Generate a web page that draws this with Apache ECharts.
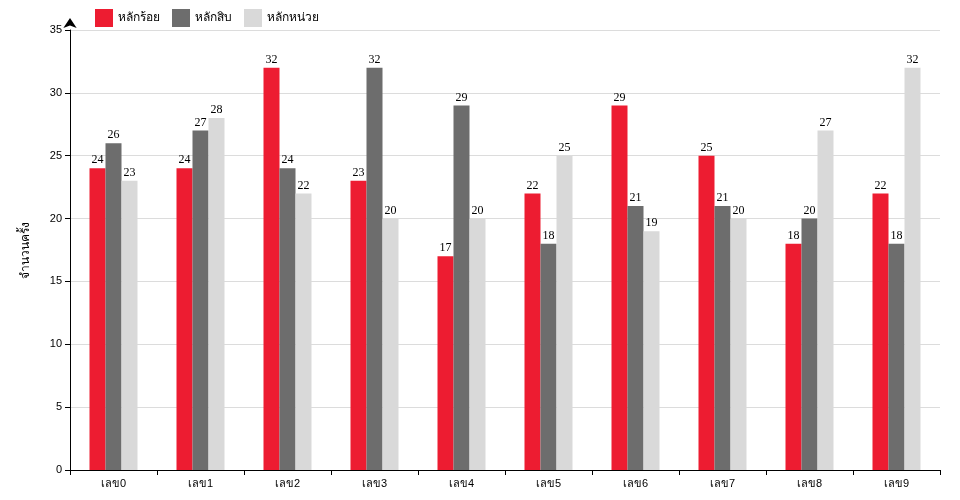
<!DOCTYPE html>
<html>
<head>
<meta charset="utf-8">
<script src="https://cdn.jsdelivr.net/npm/echarts@6/dist/echarts.min.js"></script>
<style>html,body{margin:0;padding:0;background:#fff}#box{width:960px;height:500px}</style>
</head>
<body>
<div id="box"></div>
<script>
let categories = ['เลข0', 'เลข1', 'เลข2', 'เลข3', 'เลข4', 'เลข5', 'เลข6', 'เลข7', 'เลข8', 'เลข9']
let hundreds = [24, 24, 32, 23, 17, 22, 29, 25, 18, 22]
let tens = [26, 27, 24, 32, 29, 18, 21, 21, 20, 18]
let units = [23, 28, 22, 20, 20, 25, 19, 20, 27, 32]
let names = ['หลักร้อย', 'หลักสิบ', 'หลักหน่วย']

let app = echarts.init(document.getElementById('box'))

let labelOption = {
	show: true,
	position: 'top',
	distance: 2,
	color: '#000',
	fontFamily: 'Liberation Serif',
	fontSize: 12
}

function makeSeries(name, data) {
	return {
		name: name,
		type: 'bar',
		barWidth: 16,
		barGap: '0%',
		label: labelOption,
		data: data
	}
}

app.setOption({
	animation: false,
	color: ['#ed1c31', '#6d6d6d', '#d9d9d9'],
	legend: {
		left: 90,
		top: 4,
		icon: 'rect',
		itemWidth: 18,
		itemHeight: 18,
		itemGap: 12,
		textStyle: { fontSize: 12, color: '#000' },
		data: names
	},
	grid: { left: 70, right: 20, top: 30, bottom: 30 },
	xAxis: {
		type: 'category',
		data: categories,
		axisLine: { lineStyle: { color: '#000' } },
		axisTick: { show: true, lineStyle: { color: '#000' } },
		axisLabel: { color: '#000', fontSize: 11 }
	},
	yAxis: {
		type: 'value',
		min: 0,
		max: 35,
		interval: 5,
		name: 'จำนวนครั้ง',
		nameLocation: 'middle',
		nameGap: 38,
		nameTextStyle: { color: '#000', fontSize: 12 },
		axisLine: {
			show: true,
			symbol: ['none', 'arrow'],
			symbolSize: [10, 10],
			symbolOffset: [0, 12],
			lineStyle: { color: '#000' }
		},
		axisTick: { show: true, lineStyle: { color: '#000' } },
		axisLabel: { color: '#000', fontSize: 11 },
		splitLine: { lineStyle: { color: '#dcdcdc' } }
	},
	series: [
		makeSeries(names[0], hundreds),
		makeSeries(names[1], tens),
		makeSeries(names[2], units)
	]
})
</script>
</body>
</html>
